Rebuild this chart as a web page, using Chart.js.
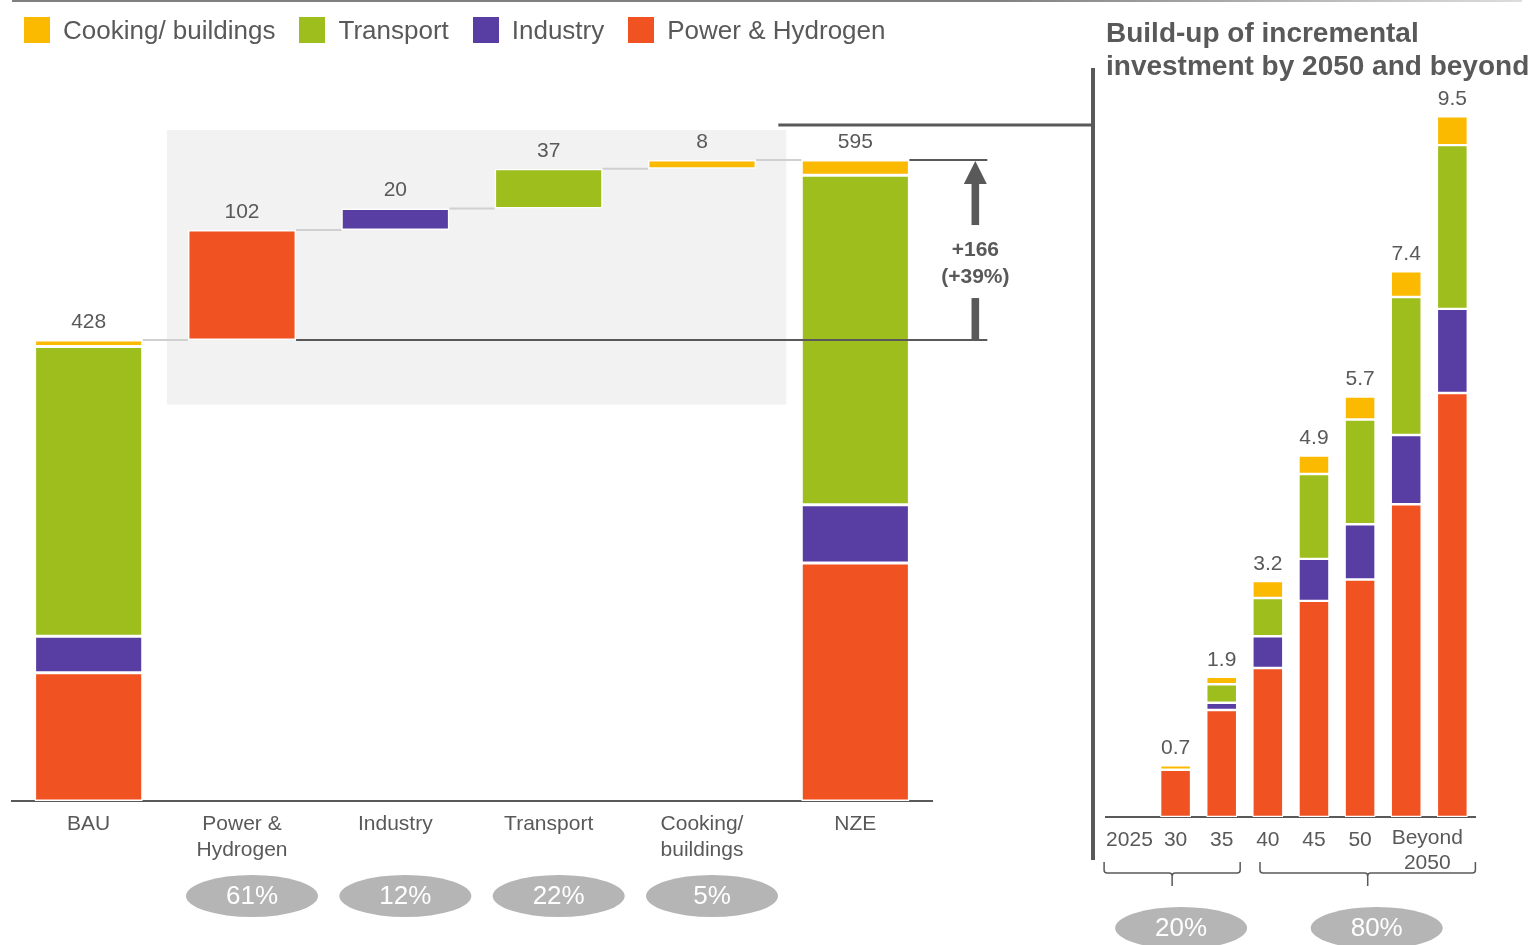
<!DOCTYPE html>
<html lang="en">
<head>
  <meta charset="UTF-8" />
  <title>Incremental investment: BAU to NZE</title>

  <script src="https://cdn.jsdelivr.net/npm/chart.js"></script>

  <style>
    body {
      margin: 0;
      background: #fff;
      color: #595959;
      font-family: 'Liberation Sans', Arial, sans-serif;
    }

    .page {
      position: relative;
      width: 1534px;
      height: 945px;
      overflow: hidden;
    }

    .topline {
      position: absolute;
      left: 12px;
      top: 0;
      width: 1510px;
      height: 2px;
      background: linear-gradient(to right, #808080 0%, #808080 65%, #dddddd 100%);
    }

    .legend {
      position: absolute;
      left: 24px;
      top: 17px;
      display: flex;
      align-items: center;
      font-size: 26px;
      line-height: 26px;
    }

    .legend .item {
      display: flex;
      align-items: center;
      margin-right: 24px;
    }

    .legend .swatch {
      width: 26px;
      height: 26px;
      margin-right: 13px;
    }

    .title {
      position: absolute;
      left: 1106px;
      top: 16px;
      font-weight: bold;
      font-size: 28px;
      line-height: 33px;
      white-space: nowrap;
    }

    #waterfall { position: absolute; left: 0; top: 0; }
    #buildup { position: absolute; left: 1100px; top: 0; }
  </style>
</head>
<body>
  <div class="page">
    <canvas id="waterfall" width="1100" height="945"></canvas>
    <canvas id="buildup" width="434" height="945"></canvas>
    <div class="topline"></div>
    <div class="legend" id="legend"></div>
    <div class="title">Build-up of incremental<br>investment by 2050 and beyond</div>
  </div>

  <script>
    // Sectors, bottom of the stack first
    const sectors = ['Power & Hydrogen', 'Industry', 'Transport', 'Cooking/ buildings'];
    const sectorColors = ['#F15222', '#583DA3', '#9DBE1D', '#FBB900'];

    // Left: BAU -> NZE waterfall
    const stepLabels = ['BAU', ['Power &', 'Hydrogen'], 'Industry', 'Transport', ['Cooking/', 'buildings'], 'NZE'];
    const bauBySector = [119, 34, 269, 6];
    const stepIncrements = [102, 20, 37, 8];
    const stepShares = ['61%', '12%', '22%', '5%'];
    const gapText = ['+166', '(+39%)'];

    // Right: build-up of incremental investment by period
    const periodLabels = ['2025', '30', '35', '40', '45', '50', '', ''];
    const beyondLabel = ['Beyond', '2050'];
    const powerBuildUp     = [null, 0.64, 1.45, 2.02, 2.93, 3.22, 4.24, 5.75];
    const industryBuildUp  = [null, null, 0.10, 0.43, 0.57, 0.75, 0.94, 1.14];
    const transportBuildUp = [null, null, 0.25, 0.52, 1.15, 1.42, 1.87, 2.22];
    const cookingBuildUp   = [null, 0.06, 0.10, 0.23, 0.25, 0.31, 0.35, 0.39];
    const periodShares = ['20%', '80%'];

    const TEXT = '#595959';
    const FONT = "'Liberation Sans', Arial, sans-serif";

    const sum = arr => arr.reduce((a, v) => a + (v || 0), 0);

    // legend (reverse order: top of stack first)
    const legendEl = document.getElementById('legend');
    sectors.map((s, i) => i).reverse().forEach(i => {
      const item = document.createElement('div');
      item.className = 'item';
      item.innerHTML = '<span class="swatch" style="background:' + sectorColors[i] + '"></span>' + sectors[i].replace('&', '&amp;');
      legendEl.appendChild(item);
    });

    function drawPill(ctx, cx, cy, text) {
      ctx.save();
      ctx.fillStyle = '#B5B5B5';
      ctx.beginPath();
      ctx.ellipse(cx, cy, 66, 21, 0, 0, Math.PI * 2);
      ctx.fill();
      ctx.fillStyle = '#fff';
      ctx.font = '26px ' + FONT;
      ctx.textAlign = 'center';
      ctx.textBaseline = 'middle';
      ctx.fillText(text, cx, cy + 1);
      ctx.restore();
    }

    function line(ctx, x1, y1, x2, y2, color, width) {
      ctx.strokeStyle = color;
      ctx.lineWidth = width;
      ctx.beginPath();
      ctx.moveTo(x1, y1);
      ctx.lineTo(x2, y2);
      ctx.stroke();
    }

    // ---------- waterfall ----------
    const nzeBySector = bauBySector.map((v, i) => v + stepIncrements[i]);
    const bauTotal = sum(bauBySector);
    const nzeTotal = sum(nzeBySector);

    const waterfallSets = sectors.map((name, k) => {
      const bauBase = sum(bauBySector.slice(0, k));
      const nzeBase = sum(nzeBySector.slice(0, k));
      const stepBase = bauTotal + sum(stepIncrements.slice(0, k));
      const data = stepLabels.map(() => null);
      data[0] = [bauBase, bauBase + bauBySector[k]];
      data[k + 1] = [stepBase, stepBase + stepIncrements[k]];
      data[stepLabels.length - 1] = [nzeBase, nzeBase + nzeBySector[k]];
      return {
        label: name,
        data: data,
        backgroundColor: sectorColors[k],
        borderColor: '#fff',
        borderWidth: 1.5,
        borderSkipped: false,
        grouped: false,
        barPercentage: 0.705,
        categoryPercentage: 1
      };
    });

    const waterfallDecor = {
      id: 'waterfallDecor',
      beforeDatasetsDraw(chart) {
        const { ctx, scales: { x, y } } = chart;
        // shaded band behind the sector steps
        const left = x.getPixelForValue(0.51), right = x.getPixelForValue(4.55);
        const top = y.getPixelForValue(623), bottom = y.getPixelForValue(368);
        ctx.save();
        ctx.fillStyle = '#F2F2F2';
        ctx.fillRect(left, top, right - left, bottom - top);
        ctx.restore();
      },
      afterDatasetsDraw(chart) {
        const { ctx, scales: { x, y } } = chart;
        const half = chart.getDatasetMeta(0).data[0].width / 2;
        const last = stepLabels.length - 1;
        ctx.save();

        // light connectors between steps
        for (let j = 0; j < last; j++) {
          const level = y.getPixelForValue(bauTotal + sum(stepIncrements.slice(0, j)));
          line(ctx, x.getPixelForValue(j) + half, level, x.getPixelForValue(j + 1) - half, level, '#D0D0D0', 2);
        }

        // BAU / NZE reference lines and the arrow
        const arrowX = x.getPixelForValue(last) + 120;
        const yBau = y.getPixelForValue(bauTotal);
        const yNze = y.getPixelForValue(nzeTotal);
        line(ctx, x.getPixelForValue(1) + half, yBau, arrowX + 12, yBau, TEXT, 2);
        line(ctx, x.getPixelForValue(last) + half, yNze, arrowX + 12, yNze, TEXT, 2);

        const textMid = (yBau + yNze) / 2 + 13;
        const headBase = yNze + 24;
        ctx.fillStyle = TEXT;
        ctx.beginPath();
        ctx.moveTo(arrowX, yNze + 1);
        ctx.lineTo(arrowX + 11.5, headBase);
        ctx.lineTo(arrowX - 11.5, headBase);
        ctx.closePath();
        ctx.fill();
        ctx.fillRect(arrowX - 3.8, headBase - 1, 7.6, textMid - 38 - headBase + 1);
        ctx.fillRect(arrowX - 3.8, textMid + 35, 7.6, yBau - textMid - 35);

        ctx.font = 'bold 21px ' + FONT;
        ctx.textAlign = 'center';
        ctx.textBaseline = 'middle';
        ctx.fillText(gapText[0], arrowX, textMid - 13);
        ctx.fillText(gapText[1], arrowX, textMid + 14);

        // value labels
        ctx.font = '21px ' + FONT;
        const tops = [bauTotal];
        const values = [bauTotal];
        stepIncrements.forEach((v, i) => {
          tops.push(bauTotal + sum(stepIncrements.slice(0, i + 1)));
          values.push(v);
        });
        tops.push(nzeTotal);
        values.push(nzeTotal);
        tops.forEach((t, j) => {
          ctx.fillText(String(values[j]), x.getPixelForValue(j), y.getPixelForValue(t) - 18);
        });

        // share of the increment, per sector
        stepShares.forEach((s, i) => drawPill(ctx, x.getPixelForValue(i + 1) + 10, 896, s));

        // divider towards the build-up panel
        line(ctx, x.getPixelForValue(last) - 77, 125, 1094, 125, TEXT, 3);
        line(ctx, 1093, 68, 1093, 860, TEXT, 4);

        ctx.restore();
      }
    };

    new Chart(document.getElementById('waterfall'), {
      type: 'bar',
      data: { labels: stepLabels, datasets: waterfallSets },
      options: {
        responsive: false,
        animation: false,
        layout: { padding: { left: 12, right: 168, top: 47, bottom: 0 } },
        plugins: { legend: { display: false }, tooltip: { enabled: false } },
        scales: {
          x: {
            grid: { display: false },
            border: { display: true, color: TEXT, width: 2 },
            ticks: {
              color: TEXT,
              font: { size: 21, family: FONT, lineHeight: 1.25 },
              padding: 2,
              maxRotation: 0,
              autoSkip: false
            },
            afterFit: scale => { scale.height = 144; }
          },
          y: { display: false, min: 0, max: 700 }
        }
      },
      plugins: [waterfallDecor]
    });

    // ---------- build-up ----------
    const buildUpSeries = [powerBuildUp, industryBuildUp, transportBuildUp, cookingBuildUp];
    const periodTotals = periodLabels.map((_, i) => sum(buildUpSeries.map(s => s[i])));

    const buildUpDecor = {
      id: 'buildUpDecor',
      afterDatasetsDraw(chart) {
        const { ctx, scales: { x, y } } = chart;
        ctx.save();
        ctx.fillStyle = TEXT;
        ctx.font = '21px ' + FONT;
        ctx.textAlign = 'center';
        ctx.textBaseline = 'middle';

        periodTotals.forEach((t, i) => {
          if (t > 0) ctx.fillText(t.toFixed(1), x.getPixelForValue(i), y.getPixelForValue(t) - 17);
        });

        // "Beyond 2050" spans the last two bars
        const n = periodLabels.length;
        const bx = (x.getPixelForValue(n - 2) + x.getPixelForValue(n - 1)) / 2 - 2;
        ctx.fillText(beyondLabel[0], bx, 838);
        ctx.fillText(beyondLabel[1], bx, 863);

        // braces grouping the periods
        const braces = [[-0.55, 2.4], [2.83, 7.5]];
        ctx.strokeStyle = TEXT;
        ctx.lineWidth = 1.5;
        braces.forEach(([a, b], i) => {
          const x0 = x.getPixelForValue(a), x1 = x.getPixelForValue(b);
          const xc = (x0 + x1) / 2;
          const top = 862, mid = 873, tip = 886;
          ctx.beginPath();
          ctx.moveTo(x0, top);
          ctx.lineTo(x0, mid - 3);
          ctx.quadraticCurveTo(x0, mid, x0 + 3, mid);
          ctx.lineTo(xc - 3, mid);
          ctx.quadraticCurveTo(xc, mid, xc, mid + 3);
          ctx.lineTo(xc, tip);
          ctx.moveTo(xc, mid + 3);
          ctx.quadraticCurveTo(xc, mid, xc + 3, mid);
          ctx.lineTo(x1 - 3, mid);
          ctx.quadraticCurveTo(x1, mid, x1, mid - 3);
          ctx.lineTo(x1, top);
          ctx.stroke();
          drawPill(ctx, xc + 9, 928, periodShares[i]);
        });
        ctx.restore();
      }
    };

    new Chart(document.getElementById('buildup'), {
      type: 'bar',
      data: {
        labels: periodLabels,
        datasets: sectors.map((name, k) => ({
          label: name,
          data: buildUpSeries[k],
          backgroundColor: sectorColors[k],
          borderColor: '#fff',
          borderWidth: 1.2,
          borderSkipped: false,
          barPercentage: 0.67,
          categoryPercentage: 1
        }))
      },
      options: {
        responsive: false,
        animation: false,
        layout: { padding: { left: 6.4, right: 58.6, top: 79.5, bottom: 0 } },
        plugins: { legend: { display: false }, tooltip: { enabled: false } },
        scales: {
          x: {
            stacked: true,
            grid: { display: false },
            border: { display: true, color: TEXT, width: 2 },
            ticks: {
              color: TEXT,
              font: { size: 21, family: FONT, lineHeight: 1.25 },
              padding: 2,
              maxRotation: 0,
              autoSkip: false
            },
            afterFit: scale => { scale.height = 128; }
          },
          y: { display: false, stacked: true, min: 0, max: 10 }
        }
      },
      plugins: [buildUpDecor]
    });
  </script>
</body>
</html>
